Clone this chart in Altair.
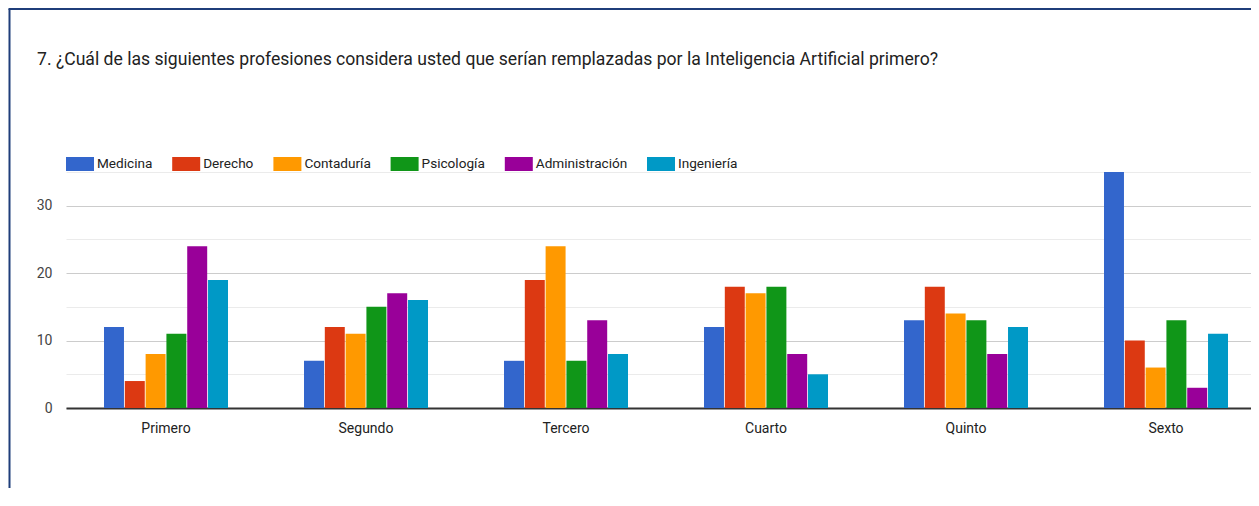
import altair as alt
import pandas as pd

TITLE = "7. ¿Cuál de las siguientes profesiones considera usted que serían remplazadas por la Inteligencia Artificial primero?"
categories = ["Primero", "Segundo", "Tercero", "Cuarto", "Quinto", "Sexto"]
series = ["Medicina", "Derecho", "Contaduría", "Psicología", "Administración", "Ingeniería"]
colors = ["#3366cc", "#dc3912", "#ff9900", "#109618", "#990099", "#0099c6"]

medicina = [12, 7, 7, 12, 13, 35]
derecho = [4, 12, 19, 18, 18, 10]
contaduria = [8, 11, 24, 17, 14, 6]
psicologia = [11, 15, 7, 18, 13, 13]
administracion = [24, 17, 13, 8, 8, 3]
ingenieria = [19, 16, 8, 5, 12, 11]

values = [medicina, derecho, contaduria, psicologia, administracion, ingenieria]
rows = []
for s, vals in zip(series, values):
    for c, v in zip(categories, vals):
        rows.append({"cat": c, "serie": s, "val": v})
df = pd.DataFrame(rows)

FONT = "Roboto"

bars = alt.Chart(df).mark_bar().encode(
    x=alt.X("cat:N", sort=categories, title=None,
            scale=alt.Scale(paddingInner=0.38, paddingOuter=0.19),
            axis=alt.Axis(labelAngle=0, ticks=False, labelPadding=13, labelFontSize=14,
                          labelColor="#222222", labelFont=FONT, domainColor="#333333",
                          domainWidth=2, grid=False)),
    xOffset=alt.XOffset("serie:N", sort=series, scale=alt.Scale(paddingInner=0.04)),
    y=alt.Y("val:Q", title=None,
            scale=alt.Scale(domain=[0, 35], nice=False),
            axis=alt.Axis(values=[0, 5, 10, 15, 20, 25, 30, 35], ticks=False, domain=False,
                          labelExpr="datum.value % 10 === 0 ? datum.label : ''",
                          labelPadding=14, labelFontSize=14, labelColor="#444444",
                          labelFont=FONT,
                          gridColor={"condition": {"test": "datum.value % 10 === 0", "value": "#cccccc"},
                                     "value": "#ebebeb"},
                          gridWidth=1)),
    color=alt.Color("serie:N", sort=series,
                    scale=alt.Scale(domain=series, range=colors),
                    legend=alt.Legend(title=None, orient="none", legendX=0, legendY=-22,
                                      direction="horizontal",
                                      symbolType="M-1,-0.5H1V0.5H-1Z", symbolSize=784,
                                      symbolStrokeWidth=0, symbolOpacity=1,
                                      labelFontSize=13.6, labelFont=FONT, labelColor="#222222",
                                      labelOffset=3, columnPadding=19.2)),
)

one = pd.DataFrame({"t": [TITLE]})
title = alt.Chart(one).mark_text(align="left", baseline="alphabetic", fontSize=17.6,
                                 font=FONT, color="#222222").encode(
    x=alt.value(-29), y=alt.value(-107), text="t:N")

frame_left = alt.Chart(one).mark_rule(color="#1f3e7a", strokeWidth=2).encode(
    x=alt.value(-56.5), y=alt.value(-163), y2=alt.value(316))
frame_top = alt.Chart(one).mark_rule(color="#1f3e7a", strokeWidth=2).encode(
    x=alt.value(-57.5), x2=alt.value(1200), y=alt.value(-163))

chart = alt.layer(bars, title, frame_left, frame_top).properties(
    width=1200, height=236,
    autosize=alt.AutoSizeParams(type="none"),
    padding={"left": 58, "top": 164, "right": -15, "bottom": 80},
    background="white",
).configure_view(stroke=None)

chart.save("out.html", embed_options={"renderer": "svg", "actions": False})
